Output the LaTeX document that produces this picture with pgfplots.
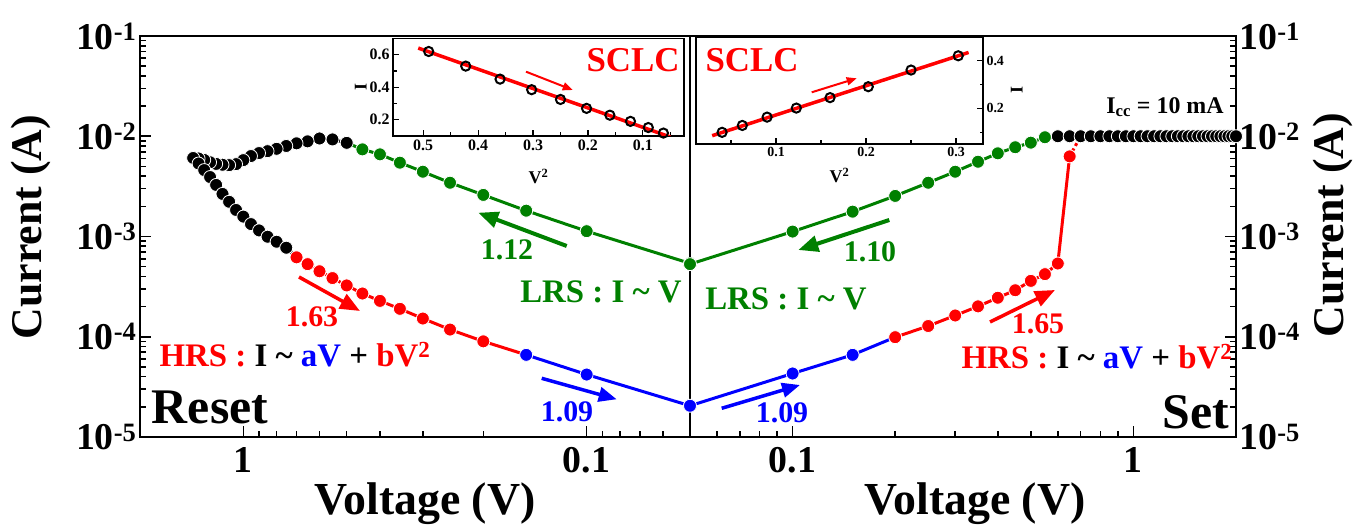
\documentclass[border=0pt]{standalone}
\usepackage{fontspec}
\setmainfont{Liberation Serif}
\usepackage{pgfplots}
\pgfplotsset{compat=1.18}
\usetikzlibrary{arrows.meta}
\definecolor{lgreen}{RGB}{0,128,0}
\newcommand\fs[1]{\fontsize{#1}{#1}\selectfont\bfseries}
\newcommand\tld{\textasciitilde}
\pgfplotsset{
  mainax/.style={scale only axis, width=550bp, height=401bp,
    xmin=0.05, xmax=2, ymin=1e-5, ymax=1e-1,
    axis line style={line width=2.5bp}, tick align=inside,
    major tick length=11bp, minor tick length=6bp,
    tick style={line width=1.6bp, black},
    xtick={0.1,1}, xticklabels={0.1,1},
    minor xtick={0.06,0.07,0.08,0.09,0.2,0.3,0.4,0.5,0.6,0.7,0.8,0.9,2},
    ytick={1e-5,1e-4,1e-3,1e-2,1e-1},
    yticklabels={10\textsuperscript{-5},10\textsuperscript{-4},10\textsuperscript{-3},10\textsuperscript{-2},10\textsuperscript{-1}},
    minor ytick={2e-5,3e-5,4e-5,5e-5,6e-5,7e-5,8e-5,9e-5,
      2e-4,3e-4,4e-4,5e-4,6e-4,7e-4,8e-4,9e-4,
      2e-3,3e-3,4e-3,5e-3,6e-3,7e-3,8e-3,9e-3,
      2e-2,3e-2,4e-2,5e-2,6e-2,7e-2,8e-2,9e-2},
    xtick pos=left, ticklabel style={font=\fs{38}},
    xticklabel style={yshift=-7bp}, clip=false},
  dot/.style={color=#1, line width=3bp, mark=*, mark size=6.5bp,
    mark options={solid, draw=white, line width=0.8bp, fill=#1}},
  link/.style={color=#1, line width=3bp, no marks},
  inax/.style={scale only axis, axis line style={line width=1.5bp},
    tick align=inside, major tick length=6bp, minor tick length=3.5bp,
    tick style={line width=1.2bp, black}, xtick pos=left,
    axis background/.style={fill=white}},
  circ/.style={only marks, mark=o, mark size=4.6bp,
    mark options={draw=black, fill=white, line width=2bp}},
}
\tikzset{arr/.style={-{Triangle[length=#1bp, width=0.8*#1bp]}}}
\begin{document}
\begin{tikzpicture}
\path[use as bounding box] (0bp,0bp) rectangle (1369bp,526bp);

% ---------- Reset (left) ----------
\begin{axis}[xmode=log, ymode=log, mainax, at={(140bp,89bp)}, anchor=south west, x dir=reverse, ytick pos=left]
% links between the sweep segments
\addplot[link=lgreen] coordinates {(0.45,7.4e-3) (0.50,8.6e-3)};
\addplot[link=black] coordinates {(0.75,7.73e-4) (0.70,6.2e-4)};
\addplot[link=red] coordinates {(0.20,9.0e-5) (0.15,6.6e-5)};
% LRS
\addplot[dot=lgreen] coordinates {
 (0.05,5.4e-4) (0.10,1.13e-3) (0.15,1.81e-3) (0.20,2.6e-3) (0.25,3.44e-3)
 (0.30,4.43e-3) (0.35,5.45e-3) (0.40,6.6e-3) (0.45,7.4e-3)};
% upper branch
\addplot[dot=black] coordinates {
 (0.50,8.6e-3) (0.55,9.3e-3) (0.60,9.5e-3) (0.65,8.9e-3) (0.70,8.5e-3)
 (0.75,8.0e-3) (0.80,7.5e-3) (0.85,7.1e-3) (0.90,6.8e-3) (0.95,6.35e-3)
 (1.00,5.78e-3) (1.05,5.27e-3) (1.10,5.15e-3) (1.15,5.2e-3) (1.20,5.3e-3)
 (1.25,5.5e-3) (1.30,5.8e-3) (1.35,6.0e-3) (1.40,6.07e-3)};
% lower branch
\addplot[dot=black] coordinates {
 (1.35,5.35e-3) (1.30,4.6e-3) (1.25,3.92e-3) (1.20,3.27e-3) (1.15,2.66e-3)
 (1.10,2.22e-3) (1.05,1.84e-3) (1.00,1.58e-3) (0.95,1.33e-3) (0.90,1.15e-3)
 (0.85,9.95e-4) (0.80,8.87e-4) (0.75,7.73e-4)};
\addplot[dot=red] coordinates {
 (0.70,6.2e-4) (0.65,5.3e-4) (0.60,4.5e-4) (0.55,3.85e-4) (0.50,3.25e-4)
 (0.45,2.7e-4) (0.40,2.28e-4) (0.35,1.9e-4) (0.30,1.52e-4) (0.25,1.18e-4)
 (0.20,9.0e-5)};
\addplot[dot=blue] coordinates {(0.15,6.6e-5) (0.10,4.2e-5) (0.05,2.05e-5)};
\end{axis}

% ---------- Set (right) ----------
\begin{axis}[xmode=log, ymode=log, mainax, at={(690bp,89bp)}, anchor=south west, width=546bp,
  ytick pos=right, yticklabel pos=right]
\addplot[link=blue] coordinates {(0.15,6.6e-5) (0.20,9.9e-5)};
\addplot[link=lgreen] coordinates {(0.55,9.77e-3) (0.60,1e-2)};
\addplot[red, line width=3bp, dashed] coordinates {(0.65,6.3e-3) (0.70,1e-2)};
\addplot[dot=lgreen] coordinates {
 (0.05,5.3e-4) (0.10,1.12e-3) (0.15,1.77e-3) (0.20,2.54e-3) (0.25,3.44e-3)
 (0.30,4.43e-3) (0.35,5.57e-3) (0.40,6.76e-3) (0.45,7.77e-3) (0.50,8.63e-3)
 (0.55,9.77e-3)};
\addplot[dot=blue] coordinates {(0.05,2.05e-5) (0.10,4.3e-5) (0.15,6.6e-5)};
\addplot[dot=red] coordinates {
 (0.20,9.9e-5) (0.25,1.28e-4) (0.30,1.63e-4) (0.35,2.01e-4) (0.40,2.45e-4)
 (0.45,2.91e-4) (0.50,3.61e-4) (0.55,4.21e-4) (0.60,5.38e-4) (0.65,6.3e-3)};
\addplot[dot=black] coordinates {
 (0.60,1e-2) (0.65,1e-2) (0.70,1e-2) (0.75,1e-2) (0.80,1e-2) (0.85,1e-2)
 (0.90,1e-2) (0.95,1e-2) (1.00,1e-2) (1.05,1e-2) (1.10,1e-2) (1.15,1e-2)
 (1.20,1e-2) (1.25,1e-2) (1.30,1e-2) (1.35,1e-2) (1.40,1e-2) (1.45,1e-2)
 (1.50,1e-2) (1.55,1e-2) (1.60,1e-2) (1.65,1e-2) (1.70,1e-2) (1.75,1e-2)
 (1.80,1e-2) (1.85,1e-2) (1.90,1e-2) (1.95,1e-2) (2.00,1e-2)};
\end{axis}

% ---------- insets ----------
\begin{axis}[inax, at={(393bp,390bp)}, anchor=south west, width=291bp, height=97.5bp,
  x dir=reverse, xmin=0.025, xmax=0.555, ymin=0.1, ymax=0.7,
  xtick={0.1,0.2,0.3,0.4,0.5}, xticklabels={0.1,0.2,0.3,0.4,0.5},
  minor xtick={0.05,0.15,0.25,0.35,0.45},
  ytick={0.2,0.4,0.6}, yticklabels={0.2,0.4,0.6}, minor ytick={0.3,0.5},
  ytick pos=left, ticklabel style={font=\fs{16}},
  xlabel={V\textsuperscript{2}}, ylabel={I},
  label style={font=\fs{18}}, xlabel style={yshift=-12bp}, ylabel style={yshift=-4bp}]
\addplot[red, line width=3.5bp] coordinates {(0.509,0.641) (0.05,0.094)};
\addplot[circ] coordinates {
 (0.49,0.62) (0.4225,0.53) (0.36,0.45) (0.3025,0.385) (0.25,0.325)
 (0.2025,0.27) (0.16,0.228) (0.1225,0.19) (0.09,0.152) (0.0625,0.118)};
\end{axis}

\begin{axis}[inax, at={(696bp,382bp)}, anchor=south west, width=287bp, height=107bp,
  xmin=0.011, xmax=0.33, ymin=0.05, ymax=0.5,
  xtick={0.1,0.2,0.3}, xticklabels={0.1,0.2,0.3}, minor xtick={0.05,0.15,0.25},
  ytick={0.2,0.4}, yticklabels={0.2,0.4}, minor ytick={0.1,0.3},
  ytick pos=right, yticklabel pos=right, ticklabel style={font=\fs{14}},
  xlabel={V\textsuperscript{2}}, ylabel={I},
  label style={font=\fs{18}}, xlabel style={yshift=-4bp}]
\addplot[red, line width=3.5bp] coordinates {(0.029,0.085) (0.314,0.435)};
\addplot[circ] coordinates {
 (0.04,0.099) (0.0625,0.128) (0.09,0.163) (0.1225,0.201) (0.16,0.245)
 (0.2025,0.291) (0.25,0.361) (0.3025,0.421)};
\end{axis}

% ---------- axis titles ----------
\node[rotate=90, font=\fs{44}] at (31bp,299bp) {Current (A)};
\node[rotate=90, font=\fs{44}] at (1333bp,301bp) {Current (A)};
\node[font=\fs{46}] at (425bp,22bp) {Voltage (V)};
\node[font=\fs{46}] at (975bp,22bp) {Voltage (V)};

% ---------- annotations ----------
\node[font=\fs{35}, red] at (633bp,466bp) {SCLC};
\node[font=\fs{35}, red] at (752bp,466bp) {SCLC};
\draw[arr=10, red, line width=2bp] (526bp,454.3bp) -- (572.7bp,436bp);
\draw[arr=10, red, line width=2bp] (811.7bp,433.7bp) -- (856.7bp,447.7bp);

\node[font=\fs{24}] at (1165bp,419bp) {I\textsubscript{cc} = 10 mA};

\draw[arr=20, lgreen, line width=4bp] (566.7bp,280bp) -- (478.3bp,313.3bp);
\draw[arr=20, lgreen, line width=4bp] (889.3bp,306bp) -- (798.3bp,276bp);
\node[font=\fs{30}, lgreen] at (507bp,276bp) {1.12};
\node[font=\fs{30}, lgreen] at (870bp,274bp) {1.10};
\node[font=\fs{33}, lgreen] at (601bp,234bp) {LRS : I \tld{} V};
\node[font=\fs{33}, lgreen] at (786bp,227bp) {LRS : I \tld{} V};

\draw[arr=20, red, line width=3.5bp] (299bp,249bp) -- (360bp,215bp);
\draw[arr=20, red, line width=3.5bp] (990bp,204bp) -- (1055bp,236bp);
\node[font=\fs{30}, red] at (312bp,209bp) {1.63};
\node[font=\fs{30}, red] at (1038bp,202bp) {1.65};

\node[font=\fs{33}] at (295bp,171bp) {\textcolor{red}{HRS :} I \tld{} \textcolor{blue}{aV} + \textcolor{red}{bV\textsuperscript{2}}};
\node[font=\fs{33}] at (1097bp,169bp) {\textcolor{red}{HRS :} I \tld{} \textcolor{blue}{aV} + \textcolor{red}{bV\textsuperscript{2}}};

\draw[arr=18, blue, line width=3.5bp] (541.7bp,147.7bp) -- (616.7bp,126.7bp);
\draw[arr=18, blue, line width=3.5bp] (721.7bp,117.7bp) -- (800bp,141bp);
\node[font=\fs{30}, blue] at (567bp,114bp) {1.09};
\node[font=\fs{30}, blue] at (782bp,113bp) {1.09};

\node[font=\fs{50}] at (210bp,119bp) {Reset};
\node[font=\fs{50}] at (1196bp,114bp) {Set};
\end{tikzpicture}
\end{document}
